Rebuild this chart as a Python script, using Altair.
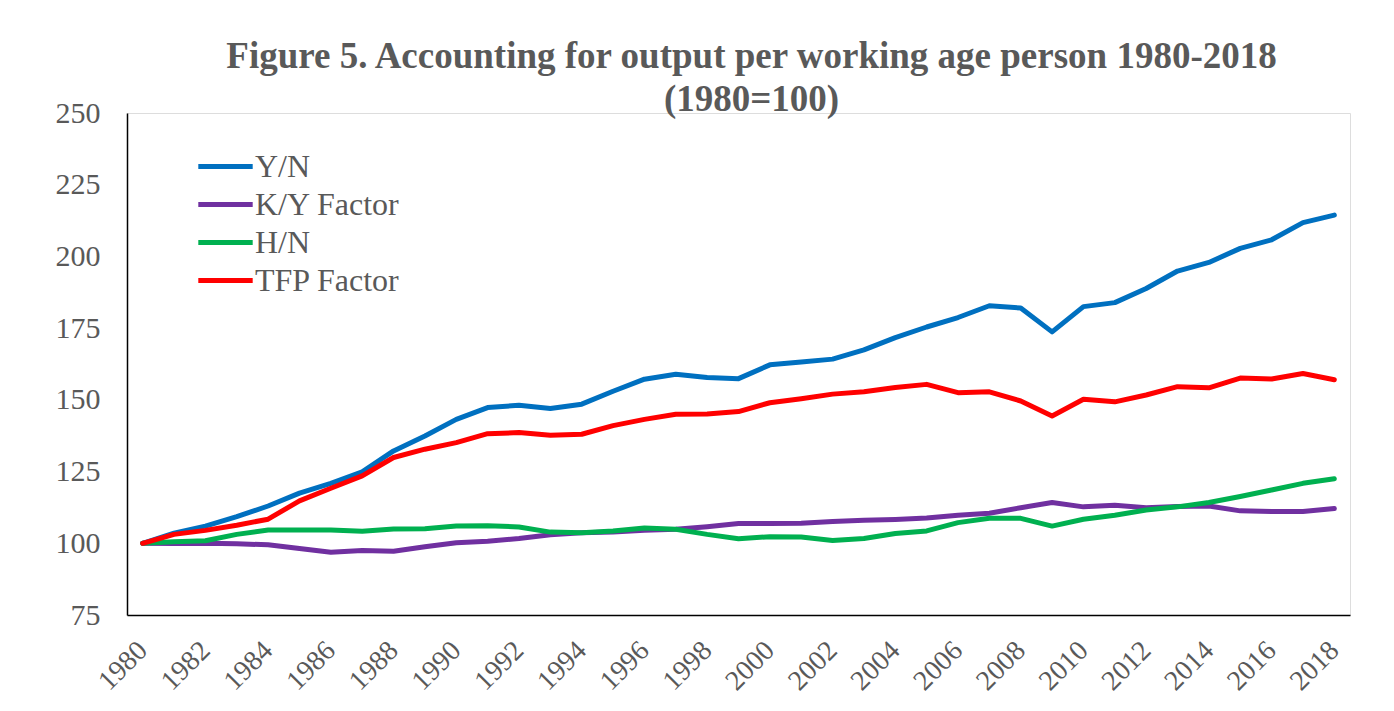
import altair as alt
import pandas as pd

years = list(range(1980, 2019))
yn = [100, 103.5, 106, 109.3, 113, 117.5, 120.9, 124.9, 132.2, 137.4,
      143.2, 147.3, 148.1, 147, 148.5, 153, 157.2, 158.9, 157.8, 157.4,
      162.2, 163.2, 164.2, 167.4, 171.7, 175.4, 178.7, 182.8, 182, 173.7,
      182.5, 183.9, 188.8, 194.9, 197.9, 202.8, 205.8, 211.8, 214.4]
ky = [100, 99.9, 100, 99.8, 99.5, 98.2, 96.9, 97.5, 97.2, 98.8,
      100.2, 100.7, 101.7, 103, 103.7, 103.9, 104.5, 104.9, 105.8, 106.9,
      106.9, 107, 107.6, 108, 108.3, 108.8, 109.8, 110.5, 112.4, 114.2,
      112.7, 113.3, 112.4, 112.8, 113, 111.3, 111.1, 111.1, 112.1]
hn = [100, 100.5, 100.9, 103.1, 104.6, 104.6, 104.6, 104.2, 105, 105.1,
      106, 106.1, 105.7, 103.9, 103.7, 104.3, 105.3, 104.9, 103.1, 101.6,
      102.3, 102.2, 101, 101.7, 103.4, 104.3, 107.2, 108.7, 108.7, 106,
      108.4, 109.8, 111.6, 112.7, 114.2, 116.3, 118.6, 120.9, 122.5]
tfp = [100, 103.1, 104.5, 106.3, 108.4, 114.8, 119.2, 123.5, 129.9, 132.8,
       135.1, 138.2, 138.6, 137.7, 138, 141, 143.2, 145, 145.1, 145.9,
       149, 150.4, 152, 152.8, 154.3, 155.4, 152.5, 152.8, 149.6, 144.4,
       150.2, 149.3, 151.7, 154.6, 154.2, 157.6, 157.3, 159.2, 157]

series_names = ["Y/N", "K/Y Factor", "H/N", "TFP Factor"]
series_colors = ["#0070C0", "#7030A0", "#00B050", "#FF0000"]
series_values = [yn, ky, hn, tfp]

rows = []
for name, vals in zip(series_names, series_values):
    for yr, v in zip(years, vals):
        rows.append({"year": yr, "value": v, "series": name})
df = pd.DataFrame(rows)

FONT = "Liberation Serif"
GRAY = "#595959"

chart = alt.Chart(df).mark_line(strokeWidth=5, strokeCap="round", strokeJoin="round").encode(
    x=alt.X("year:Q",
            scale=alt.Scale(domain=[1979.5, 2018.5], nice=False, zero=False),
            axis=alt.Axis(values=list(range(1980, 2019, 2)), format="d", title=None,
                          labelAngle=-45, labelAlign="right", labelBaseline="middle",
                          labelFont=FONT, labelFontSize=28, labelColor=GRAY,
                          labelPadding=31, ticks=False, grid=False,
                          domainColor="black", domainWidth=1.5, labelOverlap=False)),
    y=alt.Y("value:Q",
            scale=alt.Scale(domain=[75, 250], nice=False, zero=False),
            axis=alt.Axis(values=list(range(75, 251, 25)), title=None,
                          labelFont=FONT, labelFontSize=30, labelColor=GRAY,
                          labelPadding=27, ticks=False, grid=False,
                          domainColor="black", domainWidth=1.5)),
    color=alt.Color("series:N",
                    scale=alt.Scale(domain=series_names, range=series_colors),
                    sort=series_names,
                    legend=alt.Legend(title=None, orient="none", legendX=79, legendY=34,
                                      symbolType="M-1.6,0H1.6", symbolSize=1156,
                                      symbolStrokeWidth=5, labelFont=FONT,
                                      labelFontSize=32, labelColor=GRAY,
                                      labelOffset=10, rowPadding=2, padding=0)),
).properties(
    width=1223, height=502,
    title=alt.TitleParams(
        text=["Figure 5. Accounting for output per working age person 1980-2018", "(1980=100)"],
        font=FONT, fontSize=37, fontWeight="bold", color=GRAY,
        anchor="middle", frame="group", dx=13, offset=-21, lineHeight=43),
    autosize=alt.AutoSizeParams(type="none"),
    padding={"left": 127, "top": 113, "right": 44, "bottom": 96},
).configure_view(stroke=None).configure(background="white")

chart.save("out.html", embed_options={"renderer": "svg", "actions": False})
